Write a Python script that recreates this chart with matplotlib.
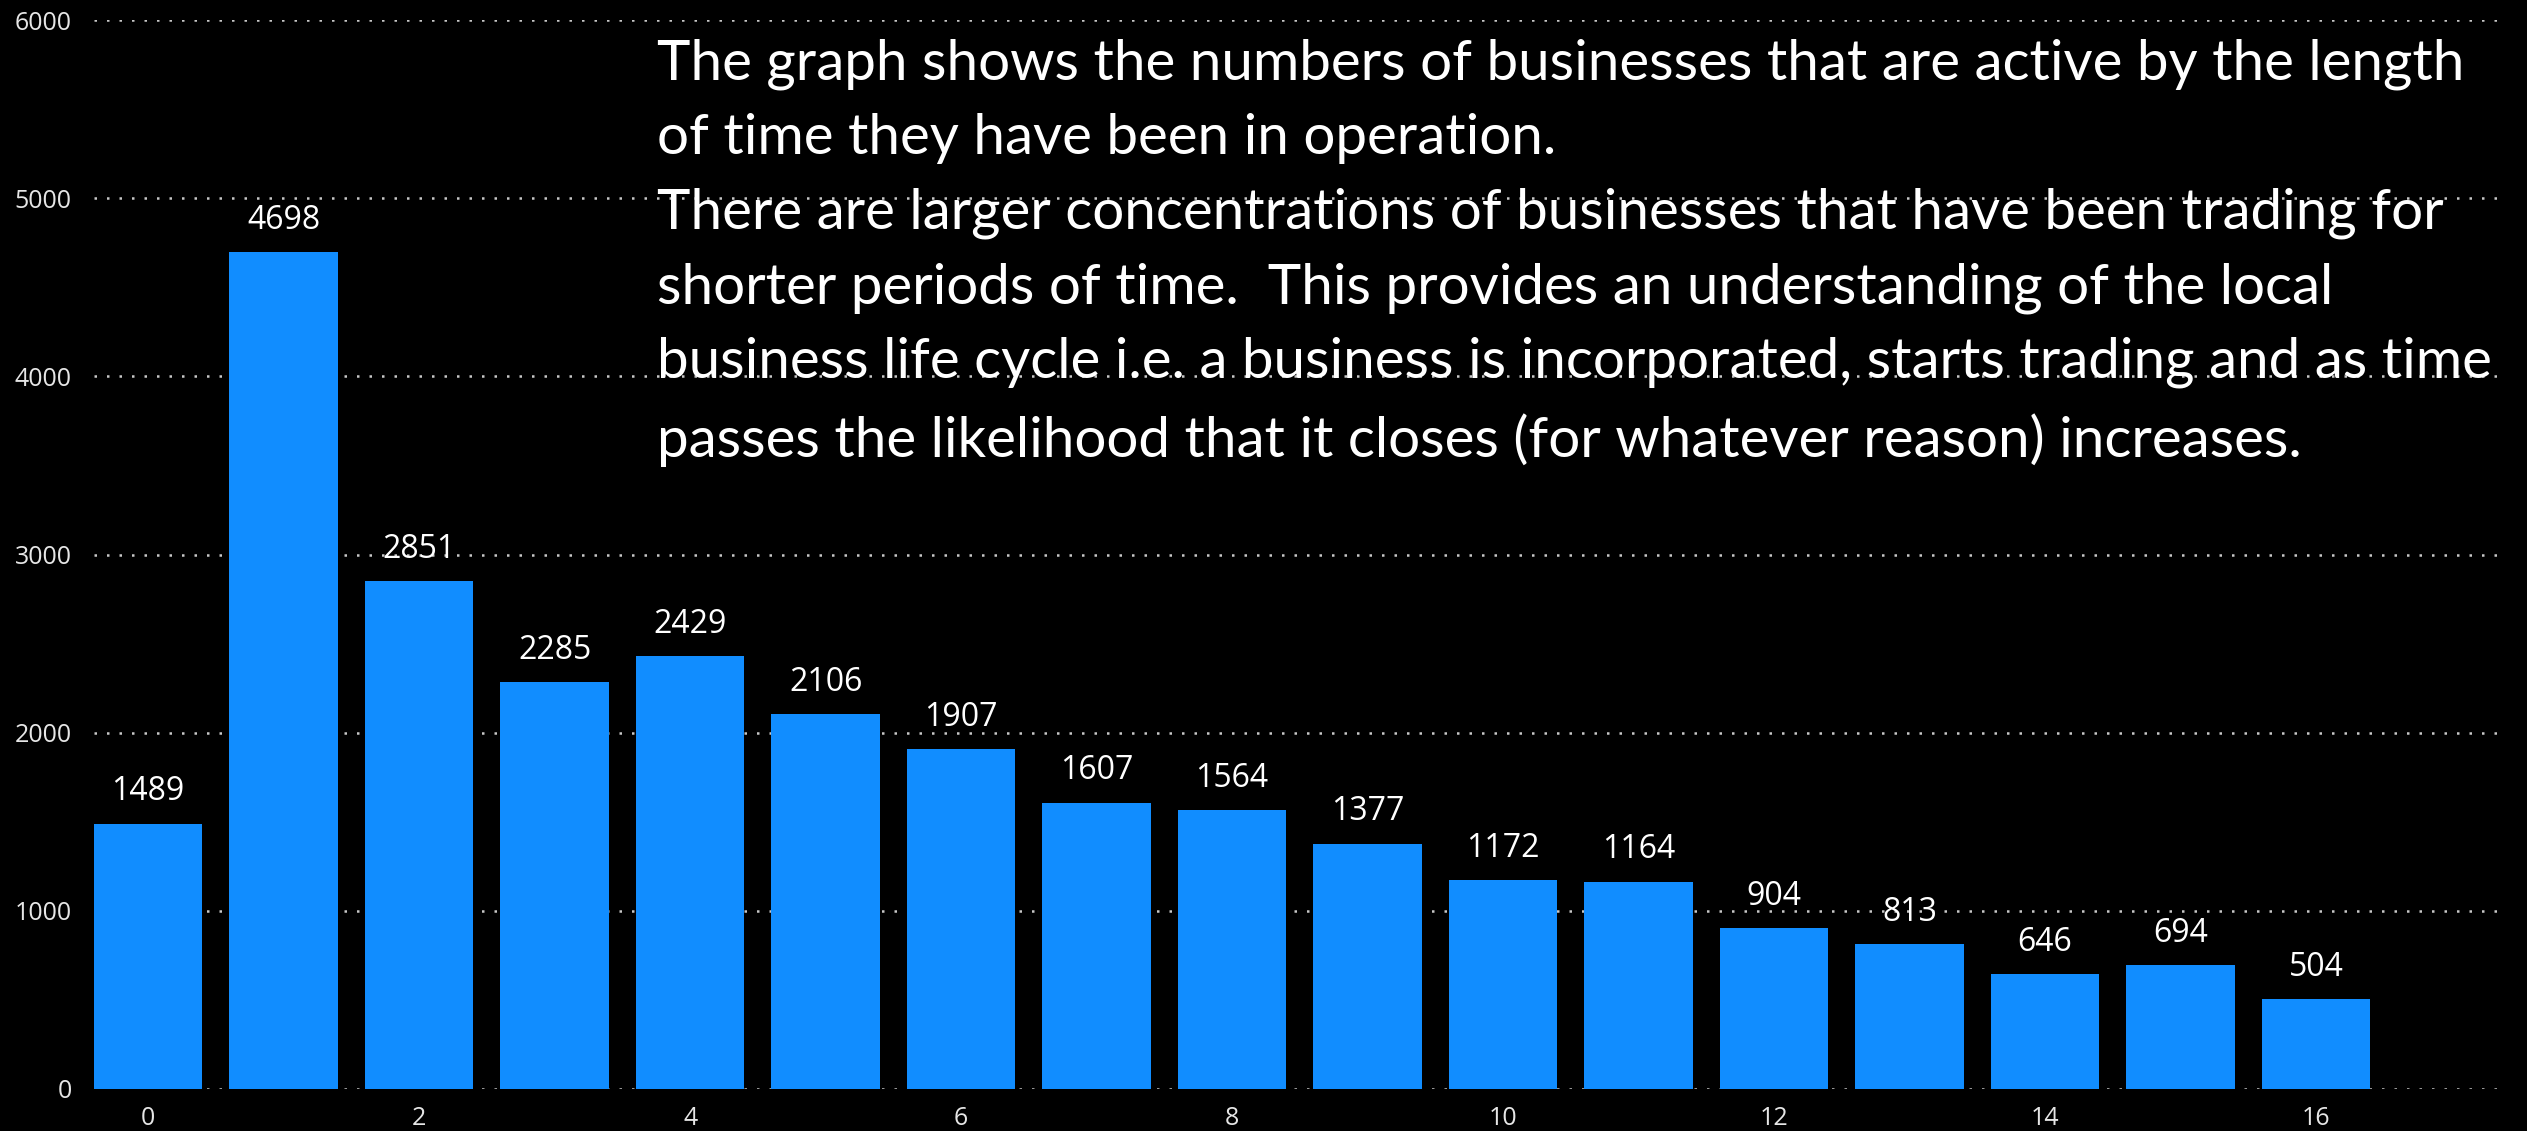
import numpy as np
import matplotlib.pyplot as plt

years = np.arange(17)
counts = [1489, 4698, 2851, 2285, 2429, 2106, 1907, 1607, 1564, 1377,
          1172, 1164, 904, 813, 646, 694, 504]
xticks = [0, 2, 4, 6, 8, 10, 12, 14, 16]
yticks = [0, 1000, 2000, 3000, 4000, 5000, 6000]

note = ("The graph shows the numbers of businesses that are active by the length\n"
        "of time they have been in operation.\n"
        "There are larger concentrations of businesses that have been trading for\n"
        "shorter periods of time.  This provides an understanding of the local\n"
        "business life cycle i.e. a business is incorporated, starts trading and as time\n"
        "passes the likelihood that it closes (for whatever reason) increases.")

plt.rcParams['font.family'] = ['Open Sans', 'DejaVu Sans']

fig = plt.figure(figsize=(25.27, 11.31), dpi=100, facecolor='black')
ax = fig.add_axes([94 / 2527, 42 / 1131, (2503 - 94) / 2527, (1089 - 20) / 1131])
ax.set_facecolor('black')

bars = ax.bar(years, counts, width=0.8, color='#118DFF', zorder=3)
ax.bar_label(bars, labels=[str(v) for v in counts], padding=11,
             color='white', fontsize=23)

ax.set_xlim(-0.4, 17.38)
ax.set_ylim(0, 6000)
ax.set_xticks(xticks)
ax.set_yticks(yticks)
ax.tick_params(axis='both', length=0, colors='#e6e6e6', labelsize=18)
ax.tick_params(axis='y', pad=16)
ax.tick_params(axis='x', pad=12)
for s in ax.spines.values():
    s.set_visible(False)
ax.grid(axis='y', color='#c8c8c8', linewidth=1.8, linestyle=(0, (1, 4)), zorder=1)
ax.set_axisbelow(True)

ax.text(657 / 2527, 1 - 38 / 1131, note, transform=fig.transFigure,
        ha='left', va='top', color='white', fontsize=40.7, linespacing=1.57,
        family=['Lato', 'DejaVu Sans'])

plt.savefig('out.png', dpi=100, facecolor='black')
